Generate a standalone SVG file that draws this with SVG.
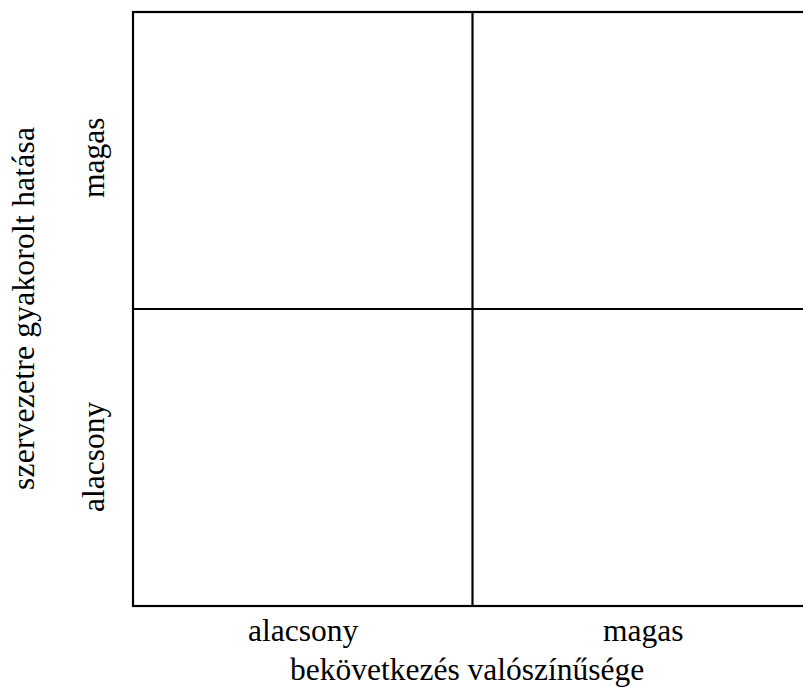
<svg xmlns="http://www.w3.org/2000/svg" width="803" height="687" viewBox="0 0 803 687">
  <style>
    .ln { stroke: #000; stroke-width: 2.2; fill: none; }
    .lbl { font-family: "Liberation Serif", "Times New Roman", serif; font-size: 31.5px; fill: #000; }
  </style>
  <rect x="0" y="0" width="803" height="687" fill="#fff"/>
  <g id="grid">
    <rect class="ln" x="133" y="12" width="673" height="594"/>
    <line class="ln" x1="472.5" y1="12" x2="472.5" y2="606"/>
    <line class="ln" x1="133" y1="309" x2="806" y2="309"/>
  </g>
  <g id="x-axis-labels">
    <text class="lbl" x="248" y="641">alacsony</text>
    <text class="lbl" x="603" y="641">magas</text>
    <text class="lbl" x="290" y="680">bekövetkezés valószínűsége</text>
  </g>
  <g id="y-axis-labels">
    <text class="lbl" transform="translate(103.5,198) rotate(-90)" x="0" y="0">magas</text>
    <text class="lbl" transform="translate(103.5,512) rotate(-90)" x="0" y="0">alacsony</text>
    <text class="lbl" transform="translate(33.5,490) rotate(-90)" x="0" y="0" textLength="363" lengthAdjust="spacing">szervezetre gyakorolt hatása</text>
  </g>
</svg>
